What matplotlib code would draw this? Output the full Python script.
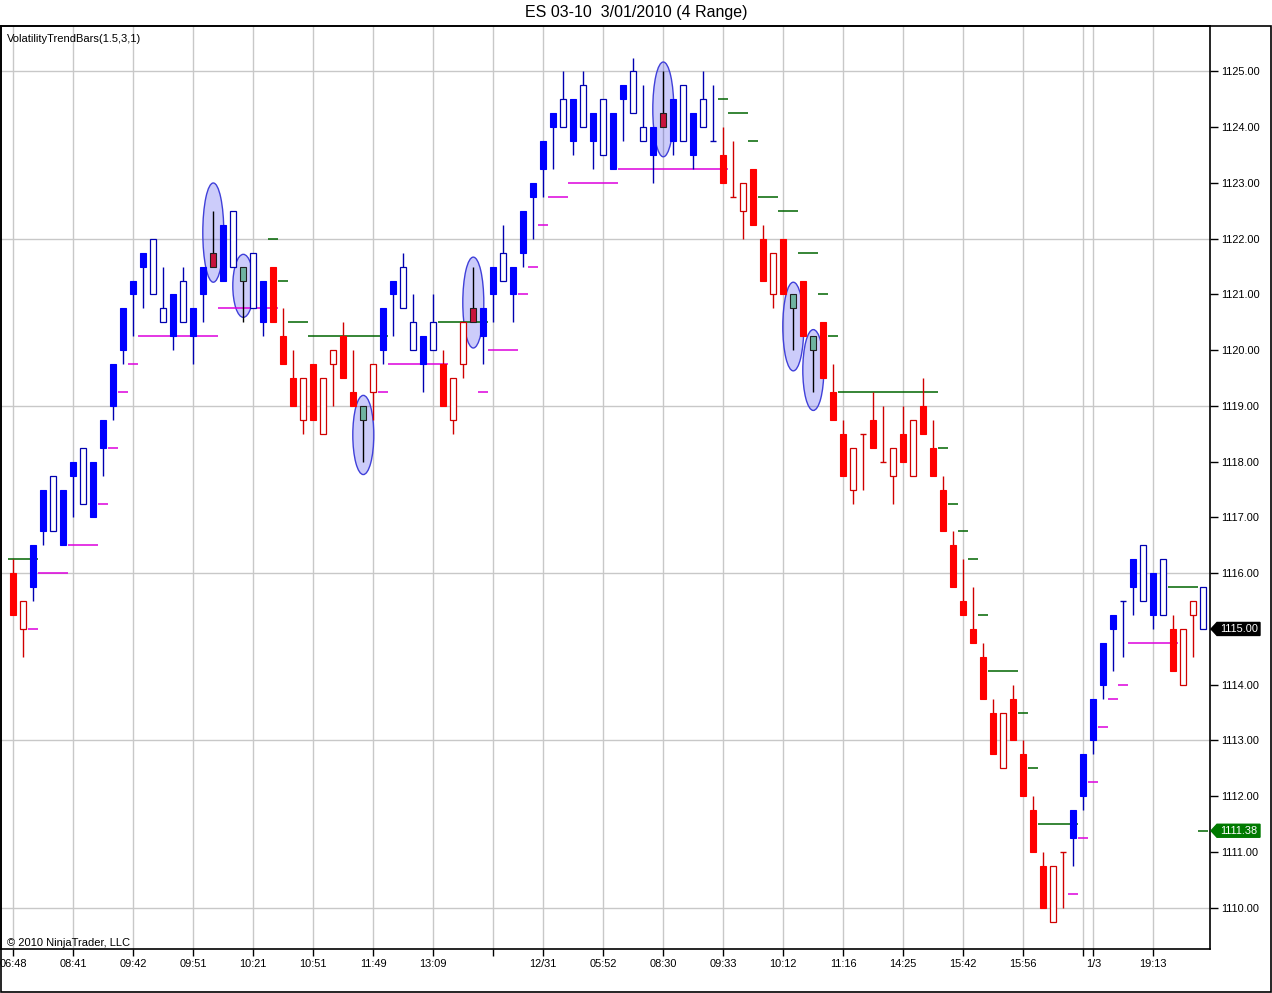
import numpy as np
import matplotlib
matplotlib.use("Agg")
import matplotlib.pyplot as plt
import matplotlib.transforms as mtransforms
from matplotlib.patches import Rectangle, Ellipse, Polygon

plt.rcParams['font.family'] = ['Liberation Sans', 'DejaVu Sans']

# ------------------ DADOS (ES 03-10, barras de 4 ticks) ------------------ #
opens = [1115.25, 1115.5, 1115.75, 1116.75, 1117.75, 1116.5, 1117.75, 1118.25, 1117.0, 1118.25,
         1119.0, 1120.0, 1121.0, 1121.5, 1122.0, 1120.75, 1120.25, 1121.25, 1120.25, 1121.0,
         1121.5, 1121.25, 1122.5, 1121.25, 1121.75, 1120.5, 1120.5, 1119.75, 1119.0, 1119.5,
         1118.75, 1119.5, 1120.0, 1119.5, 1119.0, 1118.75, 1119.75, 1120.0, 1121.0, 1121.5,
         1120.5, 1119.75, 1120.5, 1119.0, 1119.5, 1120.5, 1120.5, 1120.25, 1121.0, 1121.75,
         1121.0, 1121.75, 1122.75, 1123.25, 1124.0, 1124.5, 1123.75, 1124.75, 1123.75, 1124.5,
         1123.25, 1124.5, 1125.0, 1124.0, 1123.5, 1124.0, 1123.75, 1124.75, 1123.5, 1124.5,
         1123.75, 1123.0, 1122.75, 1123.0, 1122.25, 1121.25, 1121.75, 1121.0, 1120.75, 1120.25,
         1120.0, 1119.5, 1118.75, 1117.75, 1118.25, 1118.5, 1118.25, 1118.0, 1118.25, 1118.0,
         1118.75, 1118.5, 1117.75, 1116.75, 1115.75, 1115.25, 1114.75, 1113.75, 1112.75, 1113.5,
         1113.0, 1112.0, 1111.0, 1110.0, 1110.75, 1111.0, 1111.25, 1112.0, 1113.0, 1114.0,
         1115.0, 1115.5, 1115.75, 1116.5, 1115.25, 1116.25, 1114.25, 1115.0, 1115.5, 1115.75]

highs = [1116.25, 1115.5, 1116.5, 1117.5, 1117.75, 1117.5, 1118.0, 1118.25, 1118.0, 1118.75,
         1119.75, 1120.75, 1121.25, 1121.75, 1122.0, 1121.5, 1121.0, 1121.5, 1120.75, 1121.5,
         1122.5, 1122.25, 1122.5, 1121.5, 1121.75, 1121.25, 1121.5, 1120.75, 1120.0, 1119.5,
         1119.75, 1119.5, 1120.0, 1120.5, 1120.0, 1119.0, 1119.75, 1120.75, 1121.25, 1121.75,
         1121.0, 1120.25, 1121.0, 1120.0, 1119.5, 1120.5, 1121.5, 1120.75, 1121.5, 1122.25,
         1121.5, 1122.5, 1123.0, 1123.75, 1124.25, 1125.0, 1124.5, 1125.0, 1124.25, 1124.5,
         1124.25, 1124.75, 1125.25, 1124.75, 1124.0, 1125.0, 1124.5, 1124.75, 1124.25, 1125.0,
         1124.75, 1124.0, 1123.75, 1123.0, 1123.25, 1122.25, 1121.75, 1122.0, 1121.0, 1121.25,
         1120.25, 1120.5, 1119.75, 1118.75, 1118.25, 1118.5, 1119.25, 1119.0, 1118.25, 1119.0,
         1118.75, 1119.5, 1118.75, 1117.75, 1116.75, 1116.25, 1115.75, 1114.75, 1113.75, 1113.5,
         1114.0, 1113.0, 1112.0, 1111.0, 1110.75, 1111.0, 1111.75, 1112.75, 1113.75, 1114.75,
         1115.25, 1115.5, 1116.25, 1116.5, 1116.0, 1116.25, 1115.25, 1115.0, 1115.5, 1115.75]

lows = [1115.25, 1114.5, 1115.5, 1116.5, 1116.75, 1116.5, 1117.0, 1117.25, 1117.0, 1117.75,
        1118.75, 1119.75, 1120.25, 1120.75, 1121.0, 1120.5, 1120.0, 1120.5, 1119.75, 1120.5,
        1121.5, 1121.25, 1121.5, 1120.5, 1120.75, 1120.25, 1120.5, 1119.75, 1119.0, 1118.5,
        1118.75, 1118.5, 1119.0, 1119.5, 1119.0, 1118.0, 1118.75, 1119.75, 1120.25, 1120.75,
        1120.0, 1119.25, 1120.0, 1119.0, 1118.5, 1119.5, 1120.5, 1119.75, 1120.5, 1121.25,
        1120.5, 1121.5, 1122.0, 1122.75, 1123.25, 1124.0, 1123.5, 1124.0, 1123.25, 1123.5,
        1123.25, 1123.75, 1124.25, 1123.75, 1123.0, 1124.0, 1123.5, 1123.75, 1123.25, 1124.0,
        1123.75, 1123.0, 1122.75, 1122.0, 1122.25, 1121.25, 1120.75, 1121.0, 1120.0, 1120.25,
        1119.25, 1119.5, 1118.75, 1117.75, 1117.25, 1117.5, 1118.25, 1118.0, 1117.25, 1118.0,
        1117.75, 1118.5, 1117.75, 1116.75, 1115.75, 1115.25, 1114.75, 1113.75, 1112.75, 1112.5,
        1113.0, 1112.0, 1111.0, 1110.0, 1109.75, 1110.0, 1110.75, 1111.75, 1112.75, 1113.75,
        1114.25, 1114.5, 1115.25, 1115.5, 1115.0, 1115.25, 1114.25, 1114.0, 1114.5, 1115.0]

closes = [1116.0, 1115.0, 1116.5, 1117.5, 1116.75, 1117.5, 1118.0, 1117.25, 1118.0, 1118.75,
          1119.75, 1120.75, 1121.25, 1121.75, 1121.0, 1120.5, 1121.0, 1120.5, 1120.75, 1121.5,
          1121.75, 1122.25, 1121.5, 1121.5, 1120.75, 1121.25, 1121.5, 1120.25, 1119.5, 1118.75,
          1119.75, 1118.5, 1119.75, 1120.25, 1119.25, 1119.0, 1119.25, 1120.75, 1121.25, 1120.75,
          1120.0, 1120.25, 1120.0, 1119.75, 1118.75, 1119.75, 1120.75, 1120.75, 1121.5, 1121.25,
          1121.5, 1122.5, 1123.0, 1123.75, 1124.25, 1124.0, 1124.5, 1124.0, 1124.25, 1123.5,
          1124.25, 1124.75, 1124.25, 1123.75, 1124.0, 1124.25, 1124.5, 1123.75, 1124.25, 1124.0,
          1123.75, 1123.5, 1122.75, 1122.5, 1123.25, 1122.0, 1121.0, 1122.0, 1121.0, 1121.25,
          1120.25, 1120.5, 1119.25, 1118.5, 1117.5, 1118.5, 1118.75, 1118.0, 1117.75, 1118.5,
          1117.75, 1119.0, 1118.25, 1117.5, 1116.5, 1115.5, 1115.0, 1114.5, 1113.5, 1112.5,
          1113.75, 1112.75, 1111.75, 1110.75, 1109.75, 1111.0, 1111.75, 1112.75, 1113.75, 1114.75,
          1115.25, 1115.5, 1116.25, 1115.5, 1116.0, 1115.25, 1115.0, 1114.0, 1115.25, 1115.0]

# b = tendencia de alta (azul), r = tendencia de baixa (vermelho)
trend = ("rrbbbbbbbb" "bbbbbbbbbb" "bbbbbbrrrr" "rrrrrrrbbb" "bbbrrrrbbb"
         "bbbbbbbbbb" "bbbbbbbbbb" "brrrrrrrrr" "rrrrrrrrrr" "rrrrrrrrrr"
         "rrrrrrbbbb" "bbbbbbrrrb")

# barras de sinal do indicador
special = {20: 'c', 23: 't', 35: 't', 46: 'c', 65: 'c', 78: 't', 80: 't'}

# stops do VolatilityTrendBars (magenta = alta, verde = baixa)
N = None
up_stop = [N, N, 1115.0, 1116.0, 1116.0, 1116.0, 1116.5, 1116.5, 1116.5, 1117.25,
           1118.25, 1119.25, 1119.75, 1120.25, 1120.25, 1120.25, 1120.25, 1120.25, 1120.25, 1120.25,
           1120.25, 1120.75, 1120.75, 1120.75, 1120.75, 1120.75, 1120.75, N, N, N,
           N, N, N, N, N, N, N, 1119.25, 1119.75, 1119.75,
           1119.75, 1119.75, 1119.75, 1119.75, N, N, N, 1119.25, 1120.0, 1120.0,
           1120.0, 1121.0, 1121.5, 1122.25, 1122.75, 1122.75, 1123.0, 1123.0, 1123.0, 1123.0,
           1123.0, 1123.25, 1123.25, 1123.25, 1123.25, 1123.25, 1123.25, 1123.25, 1123.25, 1123.25,
           1123.25, 1123.25, N, N, N, N, N, N, N, N,
           N, N, N, N, N, N, N, N, N, N,
           N, N, N, N, N, N, N, N, N, N,
           N, N, N, N, N, N, 1110.25, 1111.25, 1112.25, 1113.25,
           1113.75, 1114.0, 1114.75, 1114.75, 1114.75, 1114.75, 1114.75, N, N, N]

dn_stop = [1116.25, 1116.25, 1116.25, N, N, N, N, N, N, N,
           N, N, N, N, N, N, N, N, N, N,
           N, N, N, N, N, N, 1122.0, 1121.25, 1120.5, 1120.5,
           1120.25, 1120.25, 1120.25, 1120.25, 1120.25, 1120.25, 1120.25, 1120.25, N, N,
           N, N, N, 1120.5, 1120.5, 1120.5, 1120.5, 1120.5, N, N,
           N, N, N, N, N, N, N, N, N, N,
           N, N, N, N, N, N, N, N, N, N,
           N, 1124.5, 1124.25, 1124.25, 1123.75, 1122.75, 1122.75, 1122.5, 1122.5, 1121.75,
           1121.75, 1121.0, 1120.25, 1119.25, 1119.25, 1119.25, 1119.25, 1119.25, 1119.25, 1119.25,
           1119.25, 1119.25, 1119.25, 1118.25, 1117.25, 1116.75, 1116.25, 1115.25, 1114.25, 1114.25,
           1114.25, 1113.5, 1112.5, 1111.5, 1111.5, 1111.5, 1111.5, N, N, N,
           N, N, N, N, N, N, 1115.75, 1115.75, 1115.75, 1111.38]

# elipses desenhadas a mao no grafico
ell_bars = [20, 23, 35, 46, 65, 78, 80]
ell_top = [1123.0, 1121.72, 1119.19, 1121.67, 1125.17, 1121.22, 1120.37]
ell_bot = [1121.22, 1120.59, 1117.77, 1120.04, 1123.47, 1119.63, 1118.92]

# eixo de tempo
tick_bars = [0, 6, 12, 18, 24, 30, 36, 42, 48, 53, 59, 65, 71, 77, 83, 89, 95, 101, 107, 108, 114]
tick_labels = ['06:48', '08:41', '09:42', '09:51', '10:21', '10:51', '11:49', '13:09', '',
               '12/31', '05:52', '08:30', '09:33', '10:12', '11:16', '14:25', '15:42', '15:56',
               '', '1/3', '19:13']
grid_prices = [1110, 1113, 1116, 1119, 1122, 1125]

# ------------------ CORES ------------------ #
BLUE, BLUE_LINE = '#0000FF', '#0000B0'
RED, RED_LINE = '#FF0000', '#D00000'
SPECIAL = {'c': '#C8143C', 't': '#6FB4A0'}
MAGENTA, GREEN = '#DD00DD', '#006400'

W, H = 1272, 993
fig = plt.figure(figsize=(W / 100, H / 100), dpi=100)
ax = fig.add_axes([1 / W, (H - 949) / H, 1209 / W, (949 - 26) / H])

# grade
for p in grid_prices:
    ax.axhline(p, color='#C8C8C8', lw=1, zorder=0)
for b in tick_bars:
    ax.axvline(b, color='#C8C8C8', lw=1, zorder=0)

# elipses
for b, t, bt in zip(ell_bars, ell_top, ell_bot):
    ax.add_patch(Ellipse((b, (t + bt) / 2), 2.1, t - bt, facecolor=(0.0, 0.0, 0.9, 0.2),
                         edgecolor=(0.25, 0.25, 0.85), lw=1.0, zorder=2))

# stops
idx = np.arange(len(opens))
up = np.array(up_stop, dtype=float)
dn = np.array(dn_stop, dtype=float)
m = ~np.isnan(up)
ax.hlines(up[m], idx[m] - 0.5, idx[m] + 0.5, colors=MAGENTA, lw=1.1, zorder=2.5)
m = ~np.isnan(dn)
ax.hlines(dn[m], idx[m] - 0.5, idx[m] + 0.5, colors=GREEN, lw=1.1, zorder=2.5)

# candles
bw = 0.6
for i in range(len(opens)):
    o, h, l, c = opens[i], highs[i], lows[i], closes[i]
    if i in special:
        fill, line, wick = SPECIAL[special[i]], '#202020', 'black'
    elif trend[i] == 'b':
        fill, line, wick = BLUE, BLUE_LINE, BLUE_LINE
    else:
        fill, line, wick = RED, RED_LINE, RED_LINE
    ax.vlines(i, l, h, color=wick, lw=1.0, zorder=3)
    if c > o:
        edge = line if i in special else fill
        ax.add_patch(Rectangle((i - bw / 2, o), bw, c - o, facecolor=fill,
                               edgecolor=edge, lw=0.8, zorder=4))
    elif c < o:
        ax.add_patch(Rectangle((i - bw / 2, c), bw, o - c, facecolor='white',
                               edgecolor=line, lw=0.9, zorder=4))
    else:
        ax.hlines(o, i - bw / 2, i + bw / 2, color=line, lw=1.0, zorder=4)

# eixos
ax.set_xlim(-1.23, 119.67)
ax.set_ylim(1109.259, 1125.816)
ax.yaxis.tick_right()
ax.set_yticks(np.arange(1110, 1126, 1))
ax.set_yticklabels([f"{v:.2f}" for v in np.arange(1110, 1126, 1)])
ax.set_xticks(tick_bars)
ax.set_xticklabels(tick_labels)
ax.tick_params(axis='y', direction='out', length=6, width=1, pad=2, labelsize=7.9)
ax.tick_params(axis='x', direction='out', length=5, width=1, pad=2, labelsize=7.9)
for s in ax.spines.values():
    s.set_color('black')
    s.set_linewidth(1.2)


def price_flag(y, txt, color):
    trans = mtransforms.blended_transform_factory(fig.transFigure, ax.transData)
    x0, x1, x2 = 1211 / W, 1217 / W, 1260 / W
    hh = 6.5 / 55.75
    ax.add_patch(Polygon([[x0, y], [x1, y + hh], [x2, y + hh], [x2, y - hh], [x1, y - hh]],
                         closed=True, transform=trans, facecolor=color, edgecolor=color,
                         clip_on=False, zorder=10))
    ax.text(1239 / W, y, txt, transform=trans, color='white', fontsize=7.9,
            ha='center', va='center', zorder=11, clip_on=False)


price_flag(closes[-1], f"{closes[-1]:.2f}", 'black')
price_flag(dn_stop[-1], f"{dn_stop[-1]:.2f}", '#007A00')

# textos
fig.text(636 / W, 1 - 13 / H, "ES 03-10  3/01/2010 (4 Range)", ha='center', va='center',
         fontsize=11.5)
fig.text(7 / W, 1 - 39 / H, "VolatilityTrendBars(1.5,3,1)", ha='left', va='center', fontsize=8)
fig.text(7 / W, 1 - 943 / H, "\u00a9 2010 NinjaTrader, LLC", ha='left', va='center', fontsize=8)

# moldura externa
fig.patches.append(Rectangle((0.5 / W, 1 / H), 1270.5 / W, (992 - 26) / H, fill=False,
                             edgecolor='black', lw=1.2, transform=fig.transFigure))

fig.savefig("out.png", dpi=100)
